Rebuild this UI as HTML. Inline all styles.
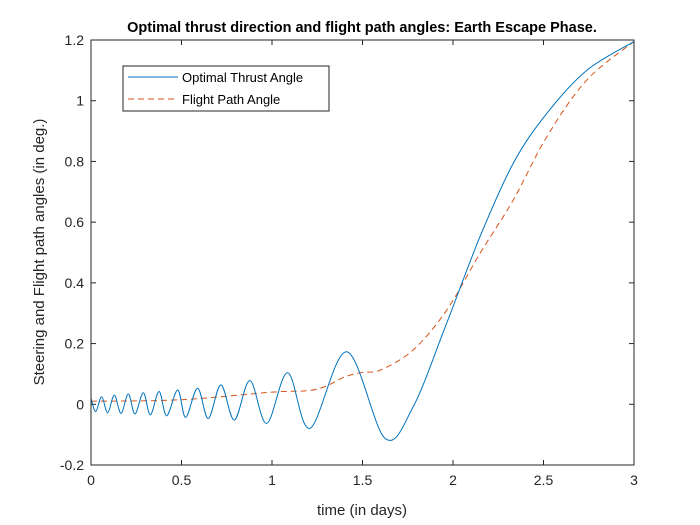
<!DOCTYPE html>
<html><head><meta charset="utf-8"><style>
body{margin:0;background:#fff;}
svg{display:block;font-family:"Liberation Sans",Arial,sans-serif;}
</style></head><body>
<svg id="chart" width="700" height="525">
<rect x="0" y="0" width="700" height="525" fill="#fff"/>
<rect x="91" y="40" width="543" height="425" fill="#fff"/>
<g id="axes"></g>
<g id="series"></g>
<rect x="91" y="40" width="543" height="425" fill="none" stroke="#262626" stroke-width="1"/>
<text x="362" y="32" text-anchor="middle" font-size="14.5" font-weight="bold" fill="#000">Optimal thrust direction and flight path angles: Earth Escape Phase.</text>
<text x="362" y="515" text-anchor="middle" font-size="15" fill="#262626">time (in days)</text>
<text transform="translate(44,252) rotate(-90)" text-anchor="middle" font-size="15" fill="#262626">Steering and Flight path angles (in deg.)</text>
<g>
<rect x="123" y="66" width="206" height="45" fill="#fff" stroke="#262626" stroke-width="1"/>
<line x1="128" y1="77" x2="178" y2="77" stroke="#0072bd" stroke-width="1"/>
<text x="182" y="82" font-size="13" fill="#000">Optimal Thrust Angle</text>
<line x1="128" y1="99" x2="178" y2="99" stroke="#d95319" stroke-width="1" stroke-dasharray="6,4"/>
<text x="182" y="104" font-size="13" fill="#000">Flight Path Angle</text>
</g>
</svg>
<script>
const xTicks=[0,0.5,1,1.5,2,2.5,3];
const xTickLabels=["0","0.5","1","1.5","2","2.5","3"];
const yTicks=[-0.2,0,0.2,0.4,0.6,0.8,1,1.2];
const yTickLabels=["-0.2","0","0.2","0.4","0.6","0.8","1","1.2"];
const thrustT=[0,0.026,0.059,0.092,0.129,0.166,0.206,0.243,0.289,0.328,0.376,0.418,0.479,0.523,0.589,0.648,0.718,0.792,0.878,0.971,1.087,1.21,1.413,1.624,1.78,1.965,2.149,2.333,2.518,2.739,3.0];
const thrustV=[0.02,-0.024,0.025,-0.028,0.03,-0.03,0.034,-0.032,0.038,-0.035,0.042,-0.038,0.047,-0.043,0.053,-0.047,0.064,-0.052,0.078,-0.063,0.104,-0.079,0.173,-0.112,-0.008,0.267,0.552,0.794,0.958,1.10,1.195];
const flightT=[0,0.5,1,1.2,1.3,1.4,1.5,1.6,1.78,1.965,2.149,2.333,2.518,2.739,3.0];
const flightV=[0.01,0.015,0.04,0.045,0.06,0.09,0.105,0.113,0.179,0.31,0.497,0.673,0.881,1.068,1.195];
const X0=91,X1=634,Y0=465,Y1=40;
const xs=t=>X0+(t-0)/(3-0)*(X1-X0);
const ys=v=>Y0-(v+0.2)/(1.4)*(Y0-Y1);
const NS="http://www.w3.org/2000/svg";
const axes=document.getElementById('axes'),ser=document.getElementById('series');
function mk(tag,attrs,parent){const e=document.createElementNS(NS,tag);for(const k in attrs)e.setAttribute(k,attrs[k]);parent.appendChild(e);return e;}
xTicks.forEach((t,i)=>{
 const l=mk('line',{x1:xs(t),x2:xs(t),y1:Y0,y2:Y0-5,stroke:'#262626'},axes);
 
 
 const l2=mk('line',{x1:xs(t),x2:xs(t),y1:Y1,y2:Y1+5,stroke:'#262626'},axes);
 
 
 const tx=mk('text',{x:xs(t),y:Y0+20,'text-anchor':'middle','font-size':14,fill:'#262626'},axes);
 tx.textContent=xTickLabels[i];
 
 
});
yTicks.forEach((v,i)=>{
 const l=mk('line',{x1:X0,x2:X0+5,y1:ys(v),y2:ys(v),stroke:'#262626'},axes);
 
 
 const l2=mk('line',{x1:X1,x2:X1-5,y1:ys(v),y2:ys(v),stroke:'#262626'},axes);
 
 
 const tx=mk('text',{x:X0-7,y:ys(v)+5,'text-anchor':'end','font-size':14,fill:'#262626'},axes);
 tx.textContent=yTickLabels[i];
 
 
});
function smoothPath(T,V){
 const p=T.map((t,i)=>[xs(t),ys(V[i])]);
 let d='M'+p[0][0]+','+p[0][1];
 for(let i=0;i<p.length-1;i++){
  const a=p[Math.max(0,i-1)],b=p[i],c=p[i+1],e=p[Math.min(p.length-1,i+2)];
  const c1=[b[0]+(c[0]-a[0])/6,b[1]+(c[1]-a[1])/6];
  const c2=[c[0]-(e[0]-b[0])/6,c[1]-(e[1]-b[1])/6];
  d+=' C'+c1+' '+c2+' '+c;
 }
 return d;
}
const fp=mk('path',{d:smoothPath(flightT,flightV),fill:'none',stroke:'#d95319','stroke-width':1,'stroke-dasharray':'6,4'},ser);


const tp=mk('path',{d:smoothPath(thrustT,thrustV),fill:'none',stroke:'#0072bd','stroke-width':1},ser);


</script>
</body></html>
